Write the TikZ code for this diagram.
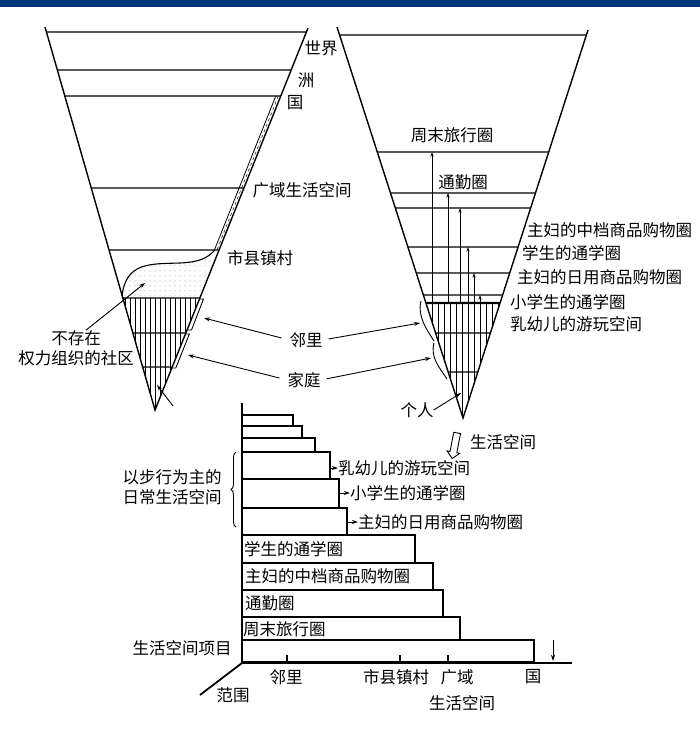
\documentclass[tikz,border=0pt]{standalone}
\usepackage{fontspec}
\setmainfont{Noto Sans CJK SC}
\usetikzlibrary{calc}
\usetikzlibrary{patterns.meta}
\usetikzlibrary{decorations.pathreplacing}
\usetikzlibrary{shapes.arrows}
\usetikzlibrary{arrows.meta}
\definecolor{barblue}{RGB}{0,52,120}

\begin{document}
\begin{tikzpicture}[x=1pt,y=-1pt,>={Stealth[length=6pt,width=4pt]},
  lab/.style={inner sep=0pt,font=\fontsize{16.5}{20}\selectfont},
  cone/.style={line width=1.4pt},
  lvl/.style={line width=1.1pt},
  barbox/.style={line width=1.8pt},
  up/.style={-{Stealth[length=4.5pt,width=3pt]},line width=0.8pt}]

\useasboundingbox (0,0) rectangle (700,731);
\fill[barblue] (0,0) rectangle (700,7);

% left cone
\coordinate (la) at (45,27);
\coordinate (lb) at (308,28);
\coordinate (lc) at (155,410);

\fill[pattern={Lines[angle=90,distance=5pt,line width=0.6pt]}]
  ($(la)!{(298-27)/383}!(lc)$) -- ($(lb)!{(298-28)/382}!(lc)$) -- (lc) -- cycle;
\fill[pattern={Dots[distance=5pt,radius=0.5pt]},pattern color=gray]
  (122,296) .. controls (126,262) and (150,264) .. (180,263)
  .. controls (200,262) and (207,258) .. (214,251)
  -- ($(lb)!{(298-28)/382}!(lc)$) -- cycle;
\draw[lvl] (122,296) .. controls (126,262) and (150,264) .. (180,263)
  .. controls (200,262) and (207,258) .. (214,251);

\draw[cone] (la) -- (lc) -- (lb);
\foreach \h in {32,70,96,188,250,298,333,367}
  \draw[lvl] ($(la)!{(\h-27)/383}!(lc)$) -- ($(lb)!{(\h-28)/382}!(lc)$);
\draw[line width=0.8pt] (275.8,96) -- (214,251);
\draw[line width=0.5pt,dashed] (278.3,96) -- (216.5,251);

\draw[line width=0.9pt] (199.5,299) -- (203.5,299) -- (191.5,330) -- (187.5,330);
\draw[line width=0.9pt] (185.4,334) -- (189.4,334) -- (175.8,368) -- (171.8,368);

\node[lab] (world) at (321,48) {世界};
\node[lab] (cont) at (306,80) {洲};
\node[lab] (nat) at (295,103) {国};
\node[lab] (wide) at (302,190) {广域生活空间};
\node[lab] (town) at (260,258) {市县镇村};
\node[lab,align=center] (nopow) at (76,348) {不存在\\权力组织的社区};

\coordinate (dots) at (145,283);
\coordinate (ltip) at (157,385);
\coordinate (lfoot) at (173,406);
\draw[->,line width=0.9pt] ([xshift=10pt]nopow.north) -- (dots);
\draw[->,line width=0.9pt] (lfoot) -- (ltip);

% right cone
\coordinate (ra) at (337,27);
\coordinate (rb) at (588,30);
\coordinate (rc) at (463,418);

\fill[pattern={Lines[angle=90,distance=6pt,line width=0.6pt]}]
  ($(ra)!{(303-27)/391}!(rc)$) -- ($(rb)!{(303-30)/388}!(rc)$) -- (rc) -- cycle;
\draw[cone] (ra) -- (rc) -- (rb);
\foreach \h in {35,152,193,208,247,273,295,333,372}
  \draw[lvl] ($(ra)!{(\h-27)/391}!(rc)$) -- ($(rb)!{(\h-30)/388}!(rc)$);
\draw[line width=2.4pt] ($(ra)!{(303-27)/391}!(rc)$) -- ($(rb)!{(303-30)/388}!(rc)$);
\foreach \x/\h in {432/152,448/193,460/208,468/247,474/273,480/295}
  \draw[up] (\x,303) -- (\x,\h);

\draw[line width=0.9pt] (421,301) .. controls (417,316) and (427,330) .. (434,341);
\draw[line width=0.9pt] (434,343) .. controls (430,358) and (440,368) .. (447,379);

\node[lab] (week) at (452,135) {周末旅行圈};
\node[lab] (work) at (463,182) {通勤圈};
\node[lab,anchor=west] (midshop) at (527,230) {主妇的中档商品购物圈};
\node[lab,anchor=west] (school) at (522,253) {学生的通学圈};
\node[lab,anchor=west] (dayshop) at (517,277) {主妇的日用商品购物圈};
\node[lab,anchor=west] (pupil) at (510,302) {小学生的通学圈};
\node[lab,anchor=west] (baby) at (510,324) {乳幼儿的游玩空间};
\node[lab] (me) at (417,410) {个人};
\coordinate (rtip) at (461,393);
\draw[->,line width=0.9pt] (me.east) -- (rtip);

% labels between the cones
\node[lab] (nb) at (306,340) {邻里};
\node[lab] (fam) at (304,380) {家庭};
\coordinate (nbl) at (204,318);
\coordinate (nbr) at (420,323);
\coordinate (faml) at (188,355);
\coordinate (famr) at (431,358);
\draw[->,line width=0.9pt,shorten <=8pt] (nb.west) -- (nbl);
\draw[->,line width=0.9pt,shorten <=6pt] (nb.east) -- (nbr);
\draw[->,line width=0.9pt,shorten <=8pt] (fam.west) -- (faml);
\draw[->,line width=0.9pt,shorten <=6pt] (fam.east) -- (famr);

\node[single arrow,draw,line width=0.9pt,minimum height=26pt,inner sep=3pt,
  single arrow head extend=3pt,rotate=-101] (down) at (455,444) {};
\node[lab] (space) at (503,442) {生活空间};

% bar chart
\coordinate (o) at (242,663);
\foreach \t/\b/\r in {415/426/293,426/438/302,438/452/315,452/479/330,479/508/339,
  508/535/347,535/563/415,563/590/433,590/617/443,617/640/460,640/662/534}
  \draw[barbox] (242,\t) rectangle (\r,\b);
\draw[barbox] (242,403) -- (o) -- (572,663);
\draw[barbox] (o) -- (200,695);
\foreach \x in {287,400,448}
  \draw[barbox] (\x,663) -- (\x,655);
\draw[->,line width=1pt] (553,640) -- (553,661);

\draw[decorate,decoration={brace,amplitude=5pt},line width=0.9pt] (236,527) -- (236,452);
\node[lab,align=center] (walk) at (172,487) {以步行为主的\\日常生活空间};

\node[lab,anchor=west] (kid) at (338,468) {乳幼儿的游玩空间};
\node[lab,anchor=west] (pup) at (350,493) {小学生的通学圈};
\node[lab,anchor=west] (wife) at (358,522) {主妇的日用商品购物圈};
\draw[->,line width=1pt] (330,468) -- (kid.west);
\draw[->,line width=1pt] (339,493) -- (pup.west);
\draw[->,line width=1pt] (347,522) -- (wife.west);

\node[lab,anchor=west] (stu) at (244,549) {学生的通学圈};
\node[lab,anchor=west] (mid) at (245,576) {主妇的中档商品购物圈};
\node[lab,anchor=west] (com) at (245,603) {通勤圈};
\node[lab,anchor=west] (trip) at (243,629) {周末旅行圈};

\node[lab] (items) at (182,648) {生活空间项目};
\node[lab] (range) at (233,695) {范围};
\node[lab] (near) at (286,677) {邻里};
\node[lab] (city) at (396,677) {市县镇村};
\node[lab] (area) at (457,677) {广域};
\node[lab] (land) at (533,677) {国};
\node[lab] (life) at (462,703) {生活空间};

\end{tikzpicture}
\end{document}
